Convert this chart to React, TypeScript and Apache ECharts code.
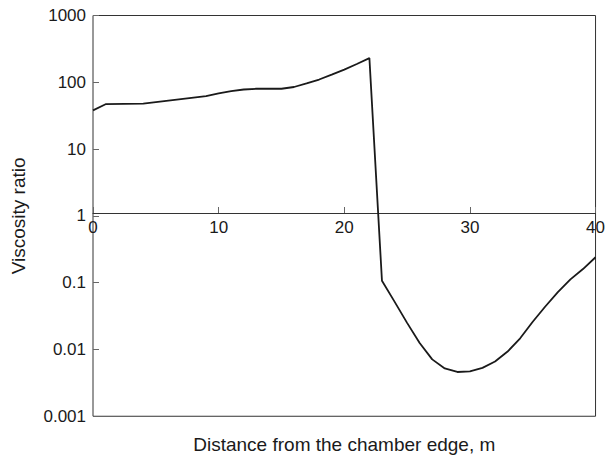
import React, { useEffect, useRef } from "react";
import * as echarts from "echarts";

const distances = [0, 1, 4, 9, 10, 11, 12, 13, 15, 16, 17, 18, 19, 20, 21, 22, 23, 24, 25, 26, 27, 28, 29, 30, 31, 32, 33, 34, 35, 36, 37, 38, 39, 40];
const viscosityRatio = [38, 47, 48, 62, 68, 74, 78, 80, 80, 85, 96, 110, 130, 155, 188, 230, 0.107, 0.052, 0.025, 0.0125, 0.0071, 0.0052, 0.0046, 0.0047, 0.0053, 0.0066, 0.0093, 0.0147, 0.026, 0.044, 0.072, 0.112, 0.16, 0.24];
const yTickLabels = ["0.001", "0.01", "0.1", "1", "10", "100", "1000"];
const xTitle = "Distance from the chamber edge, m";
const yTitle = "Viscosity ratio";

export default function App() {
  const ref = useRef<HTMLDivElement>(null);
  useEffect(() => {
    if (!ref.current) return;
    const chart = echarts.init(ref.current, null, { renderer: "svg" });
    const font = "'Liberation Sans', Arial, sans-serif";
    const gridTop = 15.5;
    const gridBottom = 37;
    const gridH = 459 - gridTop - gridBottom;
    chart.setOption({
      animation: false,
      backgroundColor: "#ffffff",
      grid: {
        left: 93,
        right: 8.5,
        top: gridTop,
        bottom: gridBottom,
        show: true,
        borderColor: "#333",
        borderWidth: 1,
        containLabel: false,
      },
      xAxis: {
        type: "value",
        min: 0,
        max: 40,
        interval: 10,
        offset: -gridH / 2,
        name: xTitle,
        nameLocation: "middle",
        nameGap: 222,
        nameTextStyle: { fontFamily: font, fontSize: 19, color: "#1a1a1a" },
        axisLine: { show: true, lineStyle: { color: "#333", width: 1 } },
        axisTick: { show: true, inside: true, length: 6, lineStyle: { color: "#666" } },
        axisLabel: { fontFamily: font, fontSize: 17, color: "#1a1a1a", margin: 6 },
        splitLine: { show: false },
      },
      yAxis: {
        type: "log",
        logBase: 10,
        min: 0.001,
        max: 1000,
        name: yTitle,
        nameLocation: "middle",
        nameGap: 65,
        nameTextStyle: { fontFamily: font, fontSize: 19, color: "#1a1a1a" },
        axisLine: { show: false },
        axisTick: { show: true, inside: true, length: 6, lineStyle: { color: "#666" } },
        axisLabel: {
          fontFamily: font,
          fontSize: 17,
          color: "#1a1a1a",
          margin: 7,
          formatter: (v: number) => {
            const i = Math.round(Math.log10(v)) + 3;
            return yTickLabels[i] ?? String(v);
          },
        },
        splitLine: { show: false },
      },
      series: [
        {
          type: "line",
          data: distances.map((d, i) => [d, viscosityRatio[i]]),
          symbol: "none",
          smooth: false,
          lineStyle: { color: "#1a1a1a", width: 1.8 },
        },
      ],
    });
    return () => chart.dispose();
  }, []);
  return (
    <div
      ref={ref}
      style={{ position: "absolute", left: 0, top: 0, width: 608, height: 459 }}
    />
  );
}
